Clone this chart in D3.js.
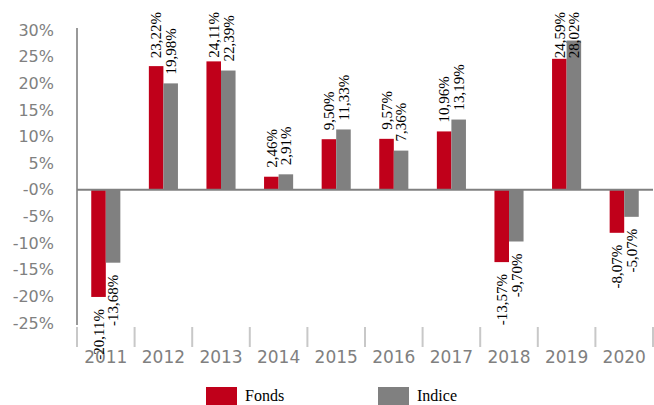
<!DOCTYPE html>
<html><head><meta charset="utf-8">
<script src="https://cdn.jsdelivr.net/npm/d3@7"></script>
<style>html,body{margin:0;padding:0;background:#fff;}svg{display:block;}</style>
</head><body>
<svg id="chart" width="654" height="405"></svg>
<script>
const years = ["2011","2012","2013","2014","2015","2016","2017","2018","2019","2020"];
const seriesNames = ["Fonds","Indice"];
const fonds  = [-20.11, 23.22, 24.11, 2.46, 9.50, 9.57, 10.96, -13.57, 24.59, -8.07];
const indice = [-13.68, 19.98, 22.39, 2.91, 11.33, 7.36, 13.19, -9.70, 28.02, -5.07];
const fondsLabels  = ["-20,11%","23,22%","24,11%","2,46%","9,50%","9,57%","10,96%","-13,57%","24,59%","-8,07%"];
const indiceLabels = ["-13,68%","19,98%","22,39%","2,91%","11,33%","7,36%","13,19%","-9,70%","28,02%","-5,07%"];
const yTicks = [30,25,20,15,10,5,0,-5,-10,-15,-20,-25];
const yTickLabels = ["30%","25%","20%","15%","10%","5%","-0%","-5%","-10%","-15%","-20%","-25%"];
const colors = ["#C0001A","#808080"];

const svg = d3.select("#chart");
const x0 = d3.scaleBand().domain(years).range([77,653]).padding(0);
const x1 = d3.scaleBand().domain(seriesNames).range([0,x0.bandwidth()]).paddingInner(0).paddingOuter(0.98);
const y = d3.scaleLinear().domain([-25,30]).range([323,30]);

// y axis labels
const yAxis = d3.axisLeft(y).tickValues(yTicks).tickFormat((d,i)=>yTickLabels[i]).tickSize(0).tickPadding(0);
const gy = svg.append("g").attr("transform","translate(54,0)").call(yAxis);
gy.select(".domain").remove();
gy.selectAll("text").attr("fill","#808080").style("font-family","'DejaVu Sans', Verdana, sans-serif").style("font-size","16px");

// category tick marks
svg.append("g").selectAll("line").data(years.concat(["end"])).join("line")
  .attr("x1",(d,i)=> i<years.length ? x0(d) : x0.range()[1])
  .attr("x2",(d,i)=> i<years.length ? x0(d) : x0.range()[1])
  .attr("y1",327).attr("y2",347).attr("stroke","#c8c8c8").attr("stroke-width",2);

// year labels
const xAxis = d3.axisBottom(x0).tickSize(0).tickPadding(0);
const gx = svg.append("g").attr("transform","translate(0,347)").call(xAxis);
gx.select(".domain").remove();
gx.selectAll("text").attr("fill","#808080").attr("dy","0.95em").style("font-family","'DejaVu Sans', Verdana, sans-serif").style("font-size","17px");

const data = years.map((yr,i)=>({year:yr, vals:[
  {s:"Fonds", v:fonds[i], l:fondsLabels[i]},
  {s:"Indice", v:indice[i], l:indiceLabels[i]}]}));

const groups = svg.append("g").selectAll("g").data(data).join("g")
  .attr("transform",d=>`translate(${x0(d.year)},0)`);
groups.selectAll("rect").data(d=>d.vals).join("rect")
  .attr("x",d=>x1(d.s)).attr("width",x1.bandwidth())
  .attr("y",d=>y(Math.max(0,d.v))).attr("height",d=>Math.abs(y(d.v)-y(0)))
  .attr("fill",(d,i)=>colors[i]);

// y axis line and zero line
svg.append("line").attr("x1",77).attr("x2",77).attr("y1",28).attr("y2",325).attr("stroke","#999").attr("stroke-width",2);
svg.append("line").attr("x1",77).attr("x2",653).attr("y1",y(0)).attr("y2",y(0)).attr("stroke","#808080").attr("stroke-width",2);

// data labels
groups.selectAll("text.lbl").data(d=>d.vals).join("text").attr("class","lbl")
  .style("font-family","'Liberation Serif','Times New Roman',serif").style("font-size","15px").attr("fill","#000")
  .text(d=>d.l)
  .each(function(d){
    const len = this.getComputedTextLength();
    const cx = x1(d.s) + x1.bandwidth()/2;
    let py, anchor;
    if (d.v >= 0) { py = Math.max(y(d.v) - 9, 12 + len); anchor = "start"; }
    else { py = y(d.v) + 12; anchor = "end"; }
    d3.select(this).attr("text-anchor",anchor).attr("dy","0.35em")
      .attr("transform",`translate(${cx},${py}) rotate(-90)`);
  });

// legend
const legend = svg.append("g");
const lx = [206,378];
seriesNames.forEach((s,i)=>{
  legend.append("rect").attr("x",lx[i]).attr("y",387).attr("width",31).attr("height",20).attr("fill",colors[i]);
  legend.append("text").attr("x",lx[i]+39).attr("y",401).text(s)
    .style("font-family","'Liberation Serif','Times New Roman',serif").style("font-size","16px").attr("fill","#000");
});
</script>
</body></html>
